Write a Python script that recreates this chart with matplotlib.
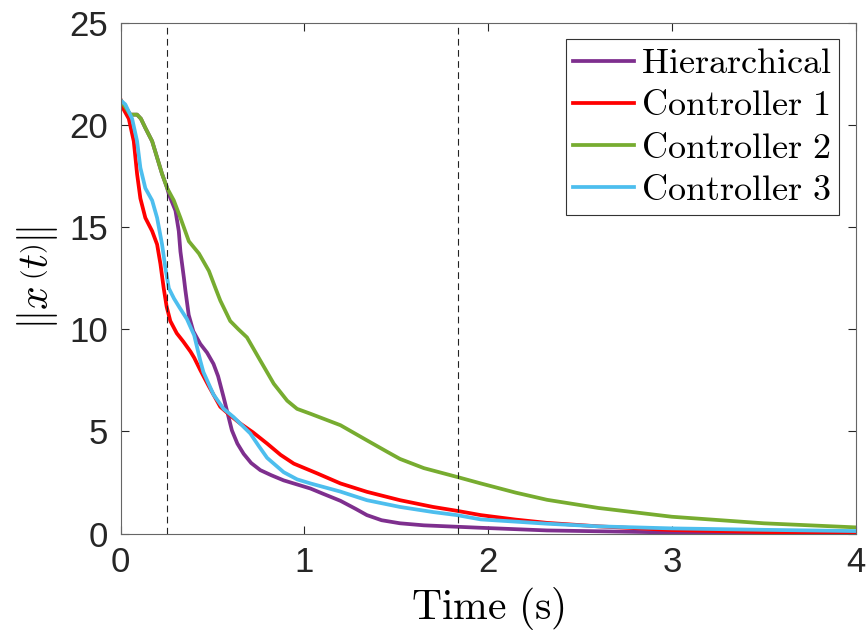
import numpy as np
import matplotlib
matplotlib.use("Agg")
import matplotlib.pyplot as plt

plt.rcParams['mathtext.fontset'] = 'cm'
plt.rcParams['font.family'] = ['Liberation Sans', 'DejaVu Sans']

# Hierarchical
t_h = [0, 0.03, 0.052, 0.089, 0.11, 0.134, 0.171, 0.198, 0.225, 0.253, 0.262, 0.298, 0.316,
       0.325, 0.344, 0.352, 0.37, 0.395, 0.433, 0.47, 0.505, 0.53, 0.56, 0.605, 0.635, 0.669,
       0.71, 0.76, 0.82, 0.887, 0.96, 1.033, 1.1, 1.196, 1.28, 1.34, 1.42, 1.52, 1.65, 1.83,
       1.96, 2.32, 3.0, 4.0]
x_h = [21.2, 20.8, 20.5, 20.5, 20.3, 19.85, 19.2, 18.4, 17.6, 16.9, 16.6, 15.8, 14.8,
       13.8, 12.5, 11.9, 10.7, 9.9, 9.28, 8.85, 8.3, 7.7, 6.67, 5.05, 4.4, 3.9,
       3.45, 3.1, 2.85, 2.6, 2.4, 2.2, 1.95, 1.6, 1.2, 0.9, 0.65, 0.5, 0.4, 0.33,
       0.28, 0.15, 0.05, 0.02]

# Controller 1
t_c1 = [0, 0.007, 0.044, 0.071, 0.089, 0.107, 0.134, 0.171, 0.198, 0.216, 0.234, 0.25, 0.27,
        0.305, 0.34, 0.38, 0.40, 0.433, 0.48, 0.542, 0.6, 0.651, 0.72, 0.797, 0.87, 0.942,
        1.07, 1.196, 1.34, 1.52, 1.7, 1.83, 1.96, 2.15, 2.32, 2.6, 3.0, 3.5, 4.0]
x_c1 = [21.2, 20.9, 20.3, 19.2, 17.6, 16.4, 15.45, 14.8, 14.15, 13.2, 12.0, 11.1, 10.4,
        9.8, 9.4, 8.9, 8.6, 8.0, 7.2, 6.2, 5.75, 5.38, 4.95, 4.4, 3.85, 3.42,
        2.94, 2.45, 2.04, 1.63, 1.3, 1.11, 0.9, 0.68, 0.52, 0.35, 0.17, 0.07, 0.03]

# Controller 2
t_c2 = [0, 0.03, 0.052, 0.089, 0.11, 0.134, 0.171, 0.198, 0.225, 0.253, 0.289, 0.325, 0.371,
        0.426, 0.48, 0.516, 0.542, 0.596, 0.64, 0.687, 0.76, 0.833, 0.906, 0.96, 1.033,
        1.196, 1.34, 1.45, 1.52, 1.65, 1.83, 1.96, 2.15, 2.32, 2.6, 3.0, 3.5, 4.0]
x_c2 = [21.2, 20.8, 20.5, 20.5, 20.3, 19.85, 19.2, 18.4, 17.6, 16.9, 16.3, 15.45, 14.3,
        13.7, 12.85, 12.0, 11.4, 10.4, 10.0, 9.6, 8.46, 7.33, 6.5, 6.1, 5.86,
        5.3, 4.56, 4.0, 3.65, 3.2, 2.77, 2.45, 2.0, 1.65, 1.25, 0.82, 0.5, 0.3]

# Controller 3
t_c3 = [0, 0.025, 0.062, 0.089, 0.107, 0.134, 0.171, 0.198, 0.225, 0.243, 0.262, 0.29, 0.32,
        0.36, 0.40, 0.433, 0.45, 0.505, 0.56, 0.614, 0.705, 0.75, 0.797, 0.887, 0.96, 1.033,
        1.196, 1.34, 1.52, 1.7, 1.83, 1.96, 2.15, 2.32, 2.6, 3.0, 3.5, 4.0]
x_c3 = [21.2, 21.0, 20.3, 19.2, 17.9, 16.9, 16.3, 15.45, 14.15, 13.0, 12.0, 11.5, 11.06,
        10.5, 9.7, 8.46, 7.9, 6.8, 6.1, 5.7, 4.9, 4.3, 3.7, 3.0, 2.65, 2.45,
        2.05, 1.63, 1.3, 1.05, 0.9, 0.69, 0.58, 0.48, 0.35, 0.25, 0.18, 0.12]

switch_times = [0.251, 1.836]

fig = plt.figure(figsize=(8.66, 6.41), dpi=100)
ax = fig.add_axes([0.1394, 0.1677, 0.8486, 0.7969])

lw = 2.7
ax.plot(t_h, x_h, color='#7E2F8E', lw=lw, solid_joinstyle='round', label=r'$\mathrm{Hierarchical}$')
ax.plot(t_c1, x_c1, color='#FF0000', lw=lw, solid_joinstyle='round', label=r'$\mathrm{Controller\ 1}$')
ax.plot(t_c2, x_c2, color='#77AC30', lw=lw, solid_joinstyle='round', label=r'$\mathrm{Controller\ 2}$')
ax.plot(t_c3, x_c3, color='#4DBEEE', lw=lw, solid_joinstyle='round', label=r'$\mathrm{Controller\ 3}$')
for ts in switch_times:
    ax.axvline(ts, color='#222222', lw=0.8, linestyle=(0, (6, 4)))

ax.set_xlim(0, 4)
ax.set_ylim(0, 25)
ax.set_xticks([0, 1, 2, 3, 4])
ax.set_yticks([0, 5, 10, 15, 20, 25])
ax.tick_params(direction='in', length=6, width=0.8, colors='#262626', labelsize=25,
               top=True, right=True, pad=9)
for s in ax.spines.values():
    s.set_color('#666666')
    s.set_linewidth(0.8)

ax.set_xlabel(r'$\mathrm{Time\ (s)}$', fontsize=30, labelpad=4)
ax.set_ylabel(r'$\|x\,\left(t\right)\|$', fontsize=30, labelpad=7)

leg = ax.legend(loc='upper right', bbox_to_anchor=(0.9773, 0.968), borderaxespad=0,
                fontsize=26, fancybox=False, framealpha=1, edgecolor='#333333',
                handlelength=1.67, handletextpad=0.2, labelspacing=0.2,
                borderpad=0.2)
leg.get_frame().set_linewidth(0.8)

fig.savefig('out.png', dpi=100)
